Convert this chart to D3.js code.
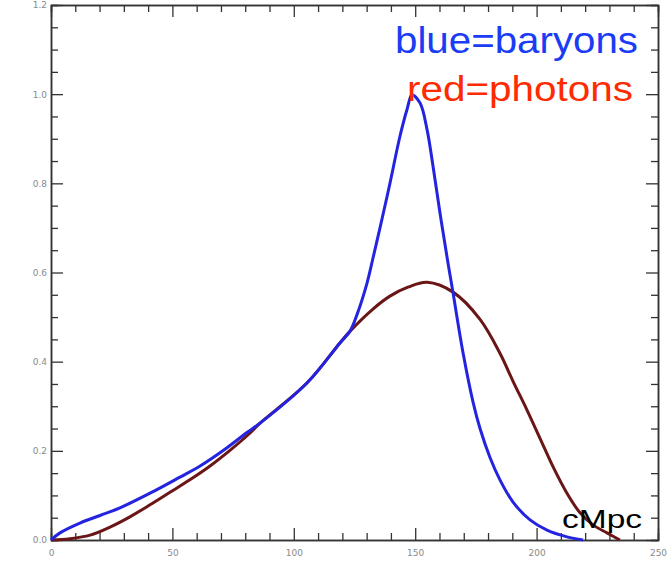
<!DOCTYPE html>
<html>
<head>
<meta charset="utf-8">
<script src="https://cdn.jsdelivr.net/npm/d3@7"></script>
<style>
  html, body { margin: 0; padding: 0; background: #fff; }
  #chart { width: 669px; height: 563px; }
  .axis path { stroke: #333; stroke-width: 1.5; }
  .axis line { stroke: #333; stroke-width: 1.3; }
  .axis text { fill: #8a8a8a; font-family: "DejaVu Sans", sans-serif; font-size: 9px; }
</style>
</head>
<body>
<div id="chart"></div>
<script>
//Datos
const baryonR = [0, 3.7, 11.9, 20.2, 28.4, 40.8, 53.1, 61.4, 72.5, 80.7, 86.1, 105.4, 119.0, 123.1, 126.0, 130.1, 132.6, 135.5, 139.6, 143.7, 146.6, 148.7, 152.0, 154.9, 157.3, 160.2, 163.1, 165.6, 169.7, 173.8, 176.7, 180.8, 184.9, 190.3, 197.3, 204.3, 212.5, 219.1];
const baryonVal = [0, 0.016, 0.038, 0.055, 0.072, 0.105, 0.141, 0.166, 0.207, 0.241, 0.262, 0.352, 0.442, 0.468, 0.505, 0.575, 0.632, 0.700, 0.800, 0.905, 0.965, 0.998, 0.980, 0.920, 0.840, 0.734, 0.635, 0.554, 0.420, 0.310, 0.250, 0.185, 0.135, 0.085, 0.045, 0.022, 0.007, 0];

const photonR = [0, 7.8, 16.1, 24.3, 32.5, 40.8, 49.0, 57.2, 65.5, 73.7, 82.0, 86.1, 105.4, 119.0, 123.1, 132.6, 139.6, 147.0, 154.9, 165.6, 176.7, 184.9, 190.3, 196.0, 201.4, 206.8, 212.5, 217.9, 223.2, 229.0, 234.3];
const photonVal = [0, 0.003, 0.011, 0.029, 0.052, 0.079, 0.107, 0.135, 0.166, 0.201, 0.240, 0.262, 0.352, 0.442, 0.468, 0.518, 0.547, 0.567, 0.578, 0.556, 0.495, 0.419, 0.356, 0.292, 0.228, 0.164, 0.105, 0.061, 0.034, 0.016, 0];

const xTicks = [0, 50, 100, 150, 200, 250];
const yTicks = [0.0, 0.2, 0.4, 0.6, 0.8, 1.0, 1.2];
const yTickLabels = ['0.0', '0.2', '0.4', '0.6', '0.8', '1.0', '1.2'];

const COLOR_BLUE = '#2424e0',
      COLOR_RED = '#6a1616';

let margin = {top: 5, right: 11, bottom: 23, left: 51},
    width = 669 - margin.left - margin.right,
    height = 563 - margin.top - margin.bottom;

let svg = d3.select('#chart')
    .append('svg')
      .attr('width', width + margin.left + margin.right)
      .attr('height', height + margin.top + margin.bottom)
    .append('g')
      .attr('transform', 'translate(' + margin.left + ',' + margin.top + ')');

let x = d3.scaleLinear().domain([0, 250]).range([0, width]);
let y = d3.scaleLinear().domain([0, 1.2]).range([height, 0]);

let xMinor = d3.range(0, 251, 10).filter(function(d) { return d % 50 != 0; });
let yMinor = d3.range(0, 25).map(function(d) { return d * 0.05; }).filter(function(d, i) { return i % 4 != 0; });

//Ticks menores
svg.append('g').attr('class', 'axis').attr('transform', 'translate(0,' + height + ')')
    .call(d3.axisBottom(x).tickValues(xMinor).tickSize(-7).tickFormat(''));
svg.append('g').attr('class', 'axis')
    .call(d3.axisTop(x).tickValues(xMinor).tickSize(-7).tickFormat(''));
svg.append('g').attr('class', 'axis')
    .call(d3.axisLeft(y).tickValues(yMinor).tickSize(-7).tickFormat(''));
svg.append('g').attr('class', 'axis').attr('transform', 'translate(' + width + ',0)')
    .call(d3.axisRight(y).tickValues(yMinor).tickSize(-7).tickFormat(''));

//Ejes principales
svg.append('g').attr('class', 'axis').attr('transform', 'translate(0,' + height + ')')
    .call(d3.axisBottom(x).tickValues(xTicks).tickSize(-12).tickSizeOuter(0).tickPadding(8))
    .selectAll('text').attr('dy', '0.9em');
svg.append('g').attr('class', 'axis')
    .call(d3.axisTop(x).tickValues(xTicks).tickSize(-12).tickSizeOuter(0).tickFormat(''));
svg.append('g').attr('class', 'axis')
    .call(d3.axisLeft(y).tickValues(yTicks).tickSize(-12).tickSizeOuter(0).tickPadding(4)
        .tickFormat(function(d, i) { return yTickLabels[i]; }));
svg.append('g').attr('class', 'axis').attr('transform', 'translate(' + width + ',0)')
    .call(d3.axisRight(y).tickValues(yTicks).tickSize(-12).tickSizeOuter(0).tickFormat(''));

//Curvas
let line = d3.line()
    .x(function(d) { return x(d[0]); })
    .y(function(d) { return y(d[1]); })
    .curve(d3.curveCatmullRom.alpha(0.5));

svg.append('path')
    .datum(d3.zip(photonR, photonVal))
    .attr('fill', 'none')
    .attr('stroke', COLOR_RED)
    .attr('stroke-width', 3)
    .attr('d', line);

svg.append('path')
    .datum(d3.zip(baryonR, baryonVal))
    .attr('fill', 'none')
    .attr('stroke', COLOR_BLUE)
    .attr('stroke-width', 3)
    .attr('d', line);

//Textos
let font = '"Liberation Sans", Arial, sans-serif';
svg.append('text')
    .attr('x', 344).attr('y', 48)
    .attr('font-family', font).attr('font-size', 37)
    .attr('textLength', 243).attr('lengthAdjust', 'spacingAndGlyphs')
    .attr('fill', '#1a3cf6')
    .text('blue=baryons');

svg.append('text')
    .attr('x', 356).attr('y', 96)
    .attr('font-family', font).attr('font-size', 35)
    .attr('textLength', 226).attr('lengthAdjust', 'spacingAndGlyphs')
    .attr('fill', '#ff2a00')
    .text('red=photons');

svg.append('text')
    .attr('x', 511).attr('y', 523)
    .attr('font-family', font).attr('font-size', 25)
    .attr('textLength', 80).attr('lengthAdjust', 'spacingAndGlyphs')
    .attr('fill', '#000')
    .text('cMpc');
</script>
</body>
</html>
